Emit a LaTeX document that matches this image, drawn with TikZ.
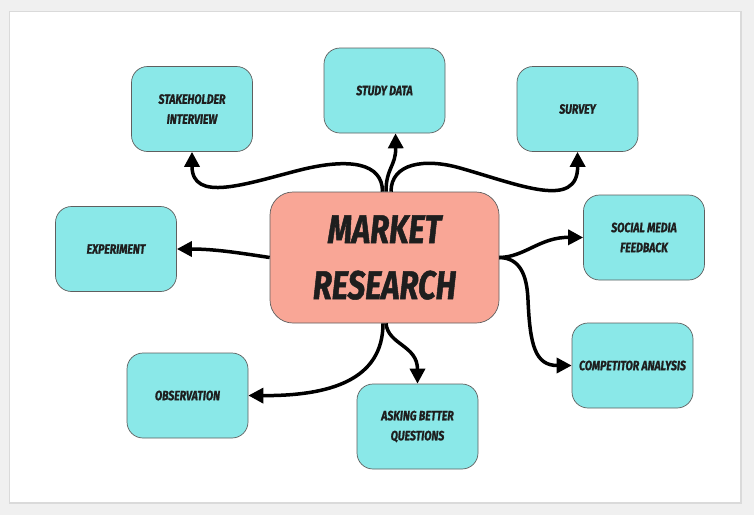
\documentclass[tikz,border=0pt]{standalone}
\usepackage{fontspec}
\newfontfamily\comicfont[FakeStretch=0.78, FakeBold=1.2]{Fira Sans}
\usetikzlibrary{arrows.meta}
\definecolor{cyanbox}{RGB}{138,232,232}
\definecolor{salmonbox}{RGB}{249,166,150}
\definecolor{bggray}{RGB}{240,240,240}
\definecolor{shadowgray}{RGB}{218,218,218}
\definecolor{edgegray}{RGB}{95,95,95}
\definecolor{inkc}{RGB}{30,30,30}
\begin{document}
\begin{tikzpicture}[x=1pt,y=-1pt,
  leaf/.style={draw=edgegray, line width=0.7pt, fill=cyanbox, rounded corners=16pt,
    minimum width=121pt, minimum height=85pt, inner sep=0pt, align=center,
    font=\comicfont\bfseries\itshape\fontsize{13.5}{20}\selectfont, text=inkc},
  hub/.style={draw=edgegray, line width=0.7pt, fill=salmonbox, rounded corners=23pt,
    minimum width=229pt, minimum height=131pt, inner sep=0pt, align=center,
    font=\comicfont\bfseries\itshape\fontsize{40}{56}\selectfont, text=inkc},
  link/.style={line width=3.5pt, draw=black, -{Triangle[length=15pt,width=15pt]}}
]
\useasboundingbox (0,0) rectangle (754,515);
\fill[bggray] (0,0) rectangle (754,515);
\fill[shadowgray] (9,11) rectangle (742,504);
\fill[white] (10,12) rectangle (740,502);

\node[hub] (ctr) at (384.5,257.5) {MARKET\\RESEARCH};
\node[leaf] (stake) at (192,109) {STAKEHOLDER\\INTERVIEW};
\node[leaf] (study) at (384.5,90.5) {STUDY DATA};
\node[leaf] (survey) at (577.5,109) {SURVEY};
\node[leaf] (exper) at (116,249) {EXPERIMENT};
\node[leaf] (social) at (644,237.5) {SOCIAL MEDIA\\FEEDBACK};
\node[leaf] (comp) at (632.5,365.5) {COMPETITOR ANALYSIS};
\node[leaf] (obs) at (187.5,395.5) {OBSERVATION};
\node[leaf] (ask) at (417.5,426.5) {ASKING BETTER\\QUESTIONS};

\draw[link] ([xshift=-2pt]ctr.north) .. controls (382.5,163) and (350,157.5) .. (300,170)
  .. controls (245,184) and (192,203) .. (stake.south);
\draw[link] ([xshift=1.5pt]ctr.north) .. controls (386,168) and (396,166) .. ([xshift=11pt]study.south);
\draw[link] ([xshift=6.5pt]ctr.north) .. controls (391,163) and (425,158) .. (460,168)
  .. controls (520,185) and (578,210) .. (survey.south);
\draw[link] (ctr.west) .. controls (240,253) and (215,249) .. (exper.east);
\draw[link] (ctr.east) .. controls (525,257) and (540,237) .. (social.west);
\draw[link] (ctr.east) .. controls (520,258) and (527,275) .. (528,300)
  .. controls (530,345) and (535,365.5) .. (comp.west);
\draw[link] ([xshift=-1.5pt]ctr.south) .. controls (383,380) and (330,396) .. (obs.east);
\draw[link] ([xshift=1.5pt]ctr.south) .. controls (388,345) and (417.5,345) .. (ask.north);
\end{tikzpicture}
\end{document}
